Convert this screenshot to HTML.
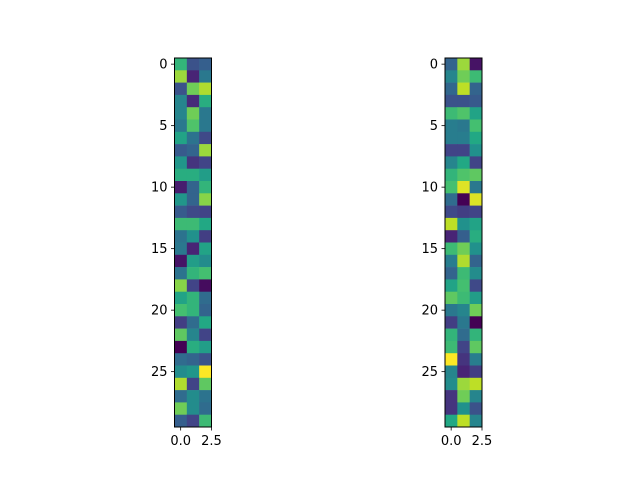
<!DOCTYPE html>
<html><head><meta charset="utf-8"><style>
body{margin:0;background:#fff}
svg{display:block;font-family:"DejaVu Sans","Liberation Sans",sans-serif}
</style></head><body>
<svg id="chart" width="640" height="480"></svg>
<script>
const leftValues=[
[0.65,0.25,0.3],[0.85,0.1,0.4],[0.25,0.78,0.88],[0.45,0.12,0.62],[0.45,0.78,0.4],
[0.4,0.72,0.4],[0.58,0.38,0.22],[0.28,0.32,0.85],[0.52,0.15,0.2],[0.62,0.62,0.55],
[0.08,0.32,0.65],[0.52,0.32,0.82],[0.28,0.22,0.2],[0.68,0.68,0.6],[0.38,0.5,0.18],
[0.4,0.1,0.58],[0.05,0.55,0.48],[0.38,0.65,0.7],[0.82,0.2,0.03],[0.58,0.65,0.35],
[0.7,0.65,0.32],[0.18,0.35,0.6],[0.75,0.45,0.2],[0.0,0.62,0.55],[0.35,0.32,0.25],
[0.48,0.52,1.0],[0.88,0.2,0.75],[0.35,0.48,0.38],[0.78,0.48,0.35],[0.3,0.2,0.68]];
const rightValues=[
[0.32,0.85,0.05],[0.45,0.78,0.68],[0.33,0.9,0.32],[0.25,0.25,0.28],[0.68,0.72,0.58],
[0.42,0.4,0.7],[0.42,0.42,0.6],[0.2,0.2,0.5],[0.45,0.6,0.2],[0.65,0.72,0.75],
[0.7,0.95,0.4],[0.35,0.0,0.95],[0.22,0.18,0.2],[0.9,0.5,0.58],[0.1,0.3,0.62],
[0.68,0.78,0.5],[0.42,0.88,0.32],[0.32,0.68,0.48],[0.58,0.7,0.22],[0.75,0.68,0.55],
[0.4,0.45,0.78],[0.18,0.4,0.0],[0.65,0.35,0.65],[0.68,0.2,0.75],[1.0,0.15,0.42],
[0.45,0.1,0.18],[0.48,0.85,0.9],[0.15,0.78,0.45],[0.15,0.5,0.25],[0.6,0.9,0.45]];
const yTicks=[0,5,10,15,20,25];
const xTicks=[0.0,2.5];
const xTickLabels=["0.0","2.5"];

const stops=["#440154","#482475","#414487","#355f8d","#2a788e","#21918c","#22a884","#44bf70","#7ad151","#bddf26","#fde725"].map(h=>[1,3,5].map(i=>parseInt(h.substr(i,2),16)));
function viridis(v){v=Math.max(0,Math.min(1,v));const t=v*10,i=Math.min(9,Math.floor(t)),f=t-i;const c=stops[i].map((a,k)=>Math.round(a+(stops[i+1][k]-a)*f));return `rgb(${c})`;}
const NS="http://www.w3.org/2000/svg",svg=document.getElementById('chart');
function mk(tag,attrs,parent){const e=document.createElementNS(NS,tag);for(const k in attrs)e.setAttribute(k,attrs[k]);(parent||svg).appendChild(e);return e;}
function drawPanel(values,x0,name){
  const rows=values.length,cols=values[0].length,y0=58,h=369,w=37;
  const cw=w/cols,ch=h/rows;
  const sx=v=>x0+(v+0.5)*cw, sy=v=>y0+(v+0.5)*ch;
  const g=mk('g',{});
  
  
  values.forEach((row,r)=>row.forEach((v,c)=>{
    const rc=mk('rect',{x:sx(c)-cw/2,y:sy(r)-ch/2,width:cw+0.3,height:ch+0.3,fill:viridis(v)},g);
    
    
  }));
  const fr=mk('rect',{x:x0,y:y0,width:w,height:h,fill:'none',stroke:'#000','stroke-width':1},g);
  
  
  yTicks.forEach(t=>{
    const y=sy(t);
    mk('line',{x1:x0-3.5,x2:x0,y1:y,y2:y,stroke:'#000','stroke-width':0.8},g);
    const tx=mk('text',{x:x0-7,y:y+4.5,'text-anchor':'end','font-size':13},g);
    tx.textContent=t;
    
    
  });
  xTicks.forEach((t,i)=>{
    const x=sx(t);
    mk('line',{x1:x,x2:x,y1:y0+h,y2:y0+h+3.5,stroke:'#000','stroke-width':0.8},g);
    const tx=mk('text',{x:x,y:y0+h+18,'text-anchor':'middle','font-size':13},g);
    tx.textContent=xTickLabels[i];
    
    
  });
}
drawPanel(leftValues,174.5,'left-heatmap');
drawPanel(rightValues,445,'right-heatmap');
</script>
</body></html>
